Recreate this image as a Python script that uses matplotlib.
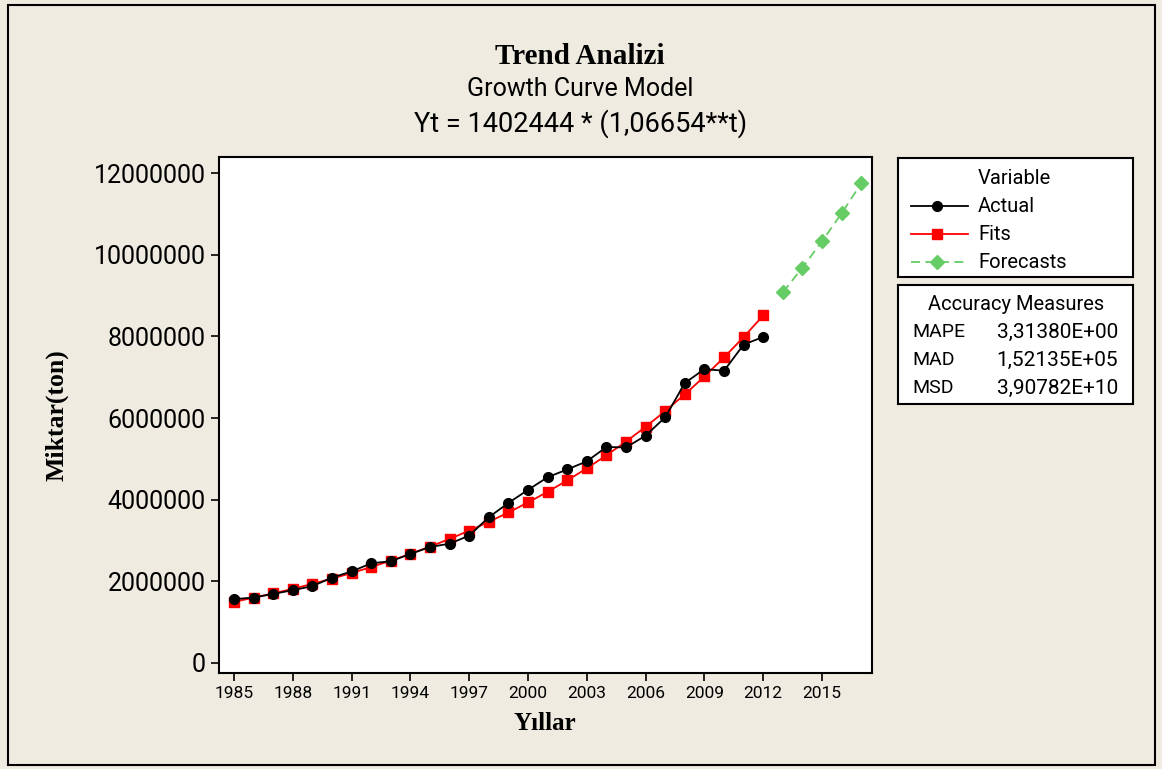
import matplotlib
matplotlib.use("Agg")
import matplotlib.pyplot as plt
from matplotlib.lines import Line2D
from matplotlib.patches import Rectangle

# ---- data ----
years = list(range(1985, 2013))
actual = [1560000, 1600000, 1690000, 1780000, 1880000, 2090000, 2240000, 2440000,
          2490000, 2670000, 2840000, 2920000, 3120000, 3570000, 3920000, 4240000,
          4550000, 4740000, 4940000, 5290000, 5280000, 5570000, 6020000, 6860000,
          7200000, 7160000, 7800000, 7990000]
fits = [1495770, 1595300, 1701450, 1814660, 1935410, 2064190, 2201540, 2348030,
        2504270, 2670910, 2848630, 3038180, 3240340, 3455950, 3685910, 3931170,
        4192750, 4471730, 4769280, 5086630, 5425090, 5786080, 6171090, 6581710,
        7019660, 7486740, 7984910, 8516230]
fc_years = [2013, 2014, 2015, 2016, 2017]
forecasts = [9082900, 9687300, 10331900, 11019400, 11752600]
xticks = list(range(1985, 2016, 3))
yticks = [0, 2000000, 4000000, 6000000, 8000000, 10000000, 12000000]
acc_names = ["MAPE", "MAD", "MSD"]
acc_values = ["3,31380E+00", "1,52135E+05", "3,90782E+10"]

BG = "#EFEBE0"
GREEN = "#66CC66"
SANS = ["Roboto", "DejaVu Sans"]
SERIF = ["Liberation Serif", "DejaVu Serif"]

W, H = 1162, 769
fig = plt.figure(figsize=(W / 100, H / 100), dpi=100, facecolor=BG)

def fx(px):
    return px / W

def fy(py):
    return 1 - py / H

# outer frame
fig.patches.append(Rectangle((fx(8), fy(765)), fx(1155) - fx(8), fy(5) - fy(765),
                             transform=fig.transFigure, fill=False, edgecolor="black",
                             linewidth=1.5))

ax = fig.add_axes([fx(219), fy(673), fx(872) - fx(219), fy(157) - fy(673)])
ax.set_facecolor("white")
ax.plot(years, actual, color="black", linewidth=1.3, marker="o", markersize=7, zorder=3)
ax.plot(years, fits, color="red", linewidth=1.3, marker="s", markersize=7.5, zorder=2)
ax.plot(fc_years, forecasts, color=GREEN, linewidth=1.3, linestyle=(0, (5, 3)),
        marker="D", markersize=7, zorder=2)

ax.set_xlim(1984.23, 2017.55)
ax.set_ylim(-250000, 12400000)
ax.set_xticks(xticks)
ax.set_xticklabels([str(x) for x in xticks], fontsize=12.5, family=SANS)
ax.set_yticks(yticks)
ax.set_yticklabels([str(y) for y in yticks], fontsize=18, family=SANS)
ax.tick_params(axis="both", direction="out", length=6, width=1.2, colors="black")
for s in ax.spines.values():
    s.set_linewidth(1.5)
    s.set_color("black")

fig.text(fx(57), fy(415), "Miktar(ton)", rotation=90, ha="center", va="center",
         fontsize=18.5, fontweight="bold", family=SERIF)
fig.text(fx(545), fy(723), "Yıllar", ha="center", va="center",
         fontsize=18, fontweight="bold", family=SERIF)

fig.text(fx(580), fy(57), "Trend Analizi", ha="center", va="center",
         fontsize=21, fontweight="bold", family=SERIF)
fig.text(fx(580), fy(89), "Growth Curve Model", ha="center", va="center",
         fontsize=18, family=SANS)
fig.text(fx(581), fy(124), "Yt = 1402444 * (1,06654**t)", ha="center", va="center",
         fontsize=19.5, family=SANS)

# Variable legend box
lax = fig.add_axes([fx(898), fy(277), fx(1133) - fx(898), fy(158) - fy(277)])
lax.set_xlim(898, 1133)
lax.set_ylim(277, 158)
lax.set_xticks([])
lax.set_yticks([])
lax.set_facecolor("white")
for s in lax.spines.values():
    s.set_linewidth(1.5)
lax.text(1014, 178, "Variable", ha="center", va="center", fontsize=14.5, family=SANS)
handles = [("Actual", "black", "-", "o", 7, 206),
           ("Fits", "red", "-", "s", 7.5, 234),
           ("Forecasts", GREEN, (0, (5, 3)), "D", 7, 262)]
for lab, c, ls, m, ms, yy in handles:
    lax.add_line(Line2D([911, 968], [yy, yy], color=c, linestyle=ls, linewidth=1.3))
    lax.add_line(Line2D([937], [yy], color=c, marker=m, markersize=ms, linestyle="none"))
    lax.text(978, yy, lab, ha="left", va="center", fontsize=14.5, family=SANS)

# Accuracy measures box
aax = fig.add_axes([fx(898), fy(404), fx(1133) - fx(898), fy(285) - fy(404)])
aax.set_xlim(898, 1133)
aax.set_ylim(404, 285)
aax.set_xticks([])
aax.set_yticks([])
aax.set_facecolor("white")
for s in aax.spines.values():
    s.set_linewidth(1.5)
aax.text(1016, 304, "Accuracy Measures", ha="center", va="center", fontsize=14.5, family=SANS)
for i, (n, v) in enumerate(zip(acc_names, acc_values)):
    yy = 332 + 28 * i
    aax.text(912, yy, n, ha="left", va="center", fontsize=14, family=SANS)
    aax.text(1118, yy, v, ha="right", va="center", fontsize=15, family=SANS)

fig.savefig("out.png", dpi=100, facecolor=BG)
